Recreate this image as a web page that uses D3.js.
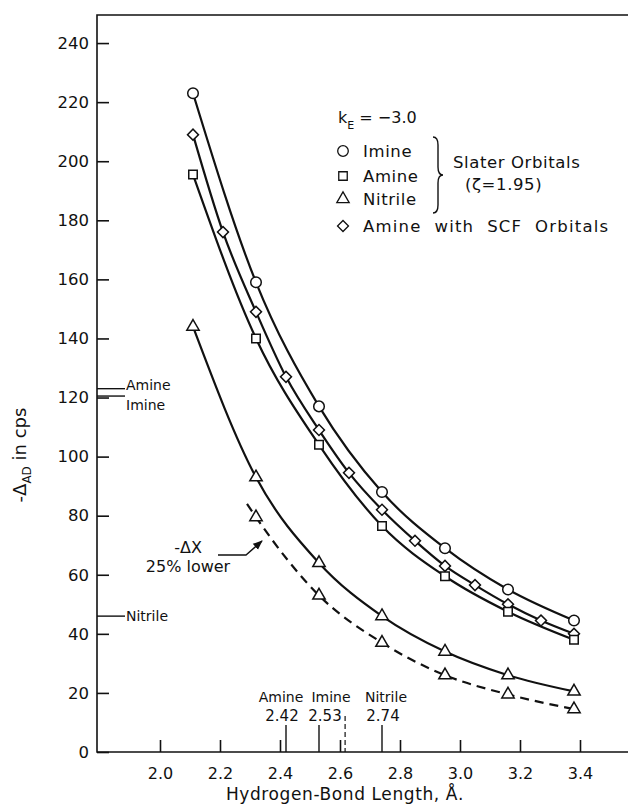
<!DOCTYPE html>
<html>
<head>
<meta charset="utf-8">
<script src="https://cdn.jsdelivr.net/npm/d3@7"></script>
<style>
  body { margin: 0; background: #fff; }
  svg text { font-family: "DejaVu Sans", sans-serif; fill: #111; }
</style>
</head>
<body>
<div id="chart"></div>
<script>
// bond lengths (Å) of the computed points
const bondLength = [2.11, 2.32, 2.53, 2.74, 2.95, 3.16, 3.38];
const imine   = [223, 159, 117, 88, 69, 55, 44.5];
const amine   = [195.5, 140, 104, 76.5, 59.5, 47.5, 38];
const nitrile = [144, 93, 64, 46, 34, 26, 20.5];

// amine with SCF orbitals, computed at half steps too
const scfLength = [2.11, 2.21, 2.32, 2.42, 2.53, 2.63, 2.74, 2.85, 2.95, 3.05, 3.16, 3.27, 3.38];
const amineSCF  = [209, 176, 149, 127, 109, 94.5, 82, 71.5, 63, 56.5, 50, 44.5, 40];

// nitrile, -ΔX 25% lower (dashed); line begins a bit before the first marker
const lowerLength = [2.29, 2.32, 2.53, 2.74, 2.95, 3.16, 3.38];
const nitrileLower = [84, 79.5, 53, 37, 26, 19.5, 14.5];
const lowerMarked = [false, true, true, true, true, true, true];

// experimental shifts marked on the y axis
const expNames  = ["Amine", "Imine", "Nitrile"];
const expShift  = [123, 120.5, 46];

// experimental bond lengths marked on the x axis
const bondNames = ["Amine", "Imine", "Nitrile"];
const bondExp   = [2.42, 2.53, 2.74];
const bondExtra = 2.617;

const xTicks = [2.0, 2.2, 2.4, 2.6, 2.8, 3.0, 3.2, 3.4];
const yTicks = d3.range(0, 241, 20);

const W = 628, H = 807;
const svg = d3.select('#chart').append('svg')
  .attr('width', W).attr('height', H);

const x = d3.scaleLinear().domain([1.79, 3.56]).range([97, 628]);
const y = d3.scaleLinear().domain([0, 249.5]).range([752, 15]);

// frame: left axis, top line, bottom axis
svg.append('path')
  .attr('d', `M${x.range()[1]},${y.range()[1]}H${x.range()[0]}V${y.range()[0]}H${x.range()[1]}`)
  .attr('fill', 'none').attr('stroke', '#111').attr('stroke-width', 1.6);

const yAxis = svg.append('g')
  .attr('transform', `translate(${x.range()[0]},0)`)
  .call(d3.axisLeft(y).tickValues(yTicks).tickSizeInner(-12).tickSizeOuter(0).tickPadding(8));
yAxis.select('.domain').remove();
yAxis.selectAll('line').attr('stroke', '#111').attr('stroke-width', 1.6);
yAxis.selectAll('text').style('font-size', '16.5px').attr('fill', '#111');

const xAxis = svg.append('g')
  .attr('transform', `translate(0,${y.range()[0]})`)
  .call(d3.axisBottom(x).tickValues(xTicks).tickFormat(d3.format('.1f'))
    .tickSizeInner(-12).tickSizeOuter(0).tickPadding(16));
xAxis.select('.domain').remove();
xAxis.selectAll('line').attr('stroke', '#111').attr('stroke-width', 1.6);
xAxis.selectAll('text').style('font-size', '16px').attr('fill', '#111');

// axis titles
svg.append('text')
  .attr('x', 345).attr('y', 800)
  .attr('text-anchor', 'middle')
  .style('font-size', '17px').style('letter-spacing', '0.6px')
  .text('Hydrogen-Bond Length, Å.');

const yTitle = svg.append('text')
  .attr('transform', 'translate(26,455) rotate(-90)')
  .attr('text-anchor', 'middle')
  .style('font-size', '18px');
yTitle.append('tspan').text('-Δ');
yTitle.append('tspan').attr('dy', 5).style('font-size', '12px').text('AD');
yTitle.append('tspan').attr('dy', -5).text(' in cps');

// curves
const line = d3.line().x(d => x(d[0])).y(d => y(d[1])).curve(d3.curveMonotoneX);
const zip = (a, b) => a.map((v, i) => [v, b[i]]);

const curves = [
  [zip(bondLength, imine), null],
  [zip(scfLength, amineSCF), null],
  [zip(bondLength, amine), null],
  [zip(bondLength, nitrile), null],
  [zip(lowerLength, nitrileLower), '9,6']
];
for (const [pts, dash] of curves) {
  svg.append('path')
    .attr('d', line(pts))
    .attr('fill', 'none').attr('stroke', '#111').attr('stroke-width', 2.2)
    .attr('stroke-dasharray', dash);
}

// markers
const shapes = {
  circle:   d3.symbol(d3.symbolCircle, 88)(),
  square:   d3.symbol(d3.symbolSquare, 72)(),
  triangle: d3.symbol(d3.symbolTriangle, 66)(),
  diamond:  d3.symbol(d3.symbolSquare, 60)()
};
function drawMarkers(pts, shape) {
  svg.append('g').selectAll('path').data(pts).join('path')
    .attr('d', shapes[shape])
    .attr('transform', d => `translate(${x(d[0])},${y(d[1])})` + (shape === 'diamond' ? ' rotate(45)' : ''))
    .attr('fill', '#fff').attr('stroke', '#111').attr('stroke-width', 1.5);
}
drawMarkers(zip(bondLength, imine), 'circle');
drawMarkers(zip(scfLength, amineSCF), 'diamond');
drawMarkers(zip(bondLength, amine), 'square');
drawMarkers(zip(bondLength, nitrile), 'triangle');
drawMarkers(zip(lowerLength, nitrileLower).filter((d, i) => lowerMarked[i]), 'triangle');

// experimental shifts on the y axis
const expTextDy = [1, 14, 5];
expNames.forEach((name, i) => {
  const yy = y(expShift[i]);
  svg.append('line')
    .attr('x1', x.range()[0]).attr('x2', x.range()[0] + 28)
    .attr('y1', yy).attr('y2', yy)
    .attr('stroke', '#111').attr('stroke-width', 1.4);
  svg.append('text')
    .attr('x', x.range()[0] + 29).attr('y', yy + expTextDy[i])
    .style('font-size', '14px')
    .text(name);
});

// experimental bond lengths on the x axis
const nameShift = [-5, 12, 4], valShift = [-4, 6, 1];
bondExp.forEach((v, i) => {
  svg.append('line')
    .attr('x1', x(v)).attr('x2', x(v))
    .attr('y1', y(0)).attr('y2', y(0) - 27)
    .attr('stroke', '#111').attr('stroke-width', 1.4);
  svg.append('text')
    .attr('x', x(v) + nameShift[i]).attr('y', 702)
    .attr('text-anchor', 'middle').style('font-size', '14px')
    .text(bondNames[i]);
  svg.append('text')
    .attr('x', x(v) + valShift[i]).attr('y', 721)
    .attr('text-anchor', 'middle').style('font-size', '15px')
    .text(d3.format('.2f')(v));
});
svg.append('line')
  .attr('x1', x(bondExtra)).attr('x2', x(bondExtra))
  .attr('y1', y(0) - 36).attr('y2', y(0))
  .attr('stroke', '#111').attr('stroke-width', 1.2)
  .attr('stroke-dasharray', '5,3');

// "-ΔX 25% lower" note with arrow to the dashed curve
svg.append('defs').append('marker')
  .attr('id', 'arrow').attr('viewBox', '0 0 10 10')
  .attr('refX', 9).attr('refY', 5)
  .attr('markerWidth', 7).attr('markerHeight', 7)
  .attr('orient', 'auto')
  .append('path').attr('d', 'M0,1L10,5L0,9Z').attr('fill', '#111');
svg.append('path')
  .attr('d', 'M218,555H246L262,541')
  .attr('fill', 'none').attr('stroke', '#111').attr('stroke-width', 1.4)
  .attr('marker-end', 'url(#arrow)');
svg.append('text').attr('x', 188).attr('y', 553)
  .attr('text-anchor', 'middle').style('font-size', '16px').text('-ΔX');
svg.append('text').attr('x', 188).attr('y', 572)
  .attr('text-anchor', 'middle').style('font-size', '16px').text('25% lower');

// legend
const legend = svg.append('g');
const kE = legend.append('text').attr('x', 338).attr('y', 123).style('font-size', '16px');
kE.append('tspan').text('k');
kE.append('tspan').attr('dy', 6).style('font-size', '11px').text('E');
kE.append('tspan').attr('dy', -6).text(' = −3.0');

const legendRows = [
  ['circle', 'Imine', 151, 0.6],
  ['square', 'Amine', 176, 0.6],
  ['triangle', 'Nitrile', 199, 0.6],
  ['diamond', 'Amine  with  SCF  Orbitals', 226, 1.2]
];
for (const [shape, label, yy, ls] of legendRows) {
  legend.append('path')
    .attr('d', shapes[shape])
    .attr('transform', `translate(343,${yy})` + (shape === 'diamond' ? ' rotate(45)' : ''))
    .attr('fill', '#fff').attr('stroke', '#111').attr('stroke-width', 1.3);
  legend.append('text')
    .attr('x', 363).attr('y', yy + 6)
    .style('font-size', '16.5px').style('letter-spacing', ls + 'px')
    .style('white-space', 'pre')
    .text(label);
}
legend.append('path')
  .attr('d', 'M433,137Q438,137 438,145V167Q438,175 443,175Q438,175 438,183V205Q438,213 433,213')
  .attr('fill', 'none').attr('stroke', '#111').attr('stroke-width', 1.4);
legend.append('text').attr('x', 453).attr('y', 168)
  .style('font-size', '16.5px').style('letter-spacing', '0.6px').text('Slater Orbitals');
legend.append('text').attr('x', 465).attr('y', 190)
  .style('font-size', '16.5px').style('letter-spacing', '0.6px').text('(ζ=1.95)');
</script>
</body>
</html>
